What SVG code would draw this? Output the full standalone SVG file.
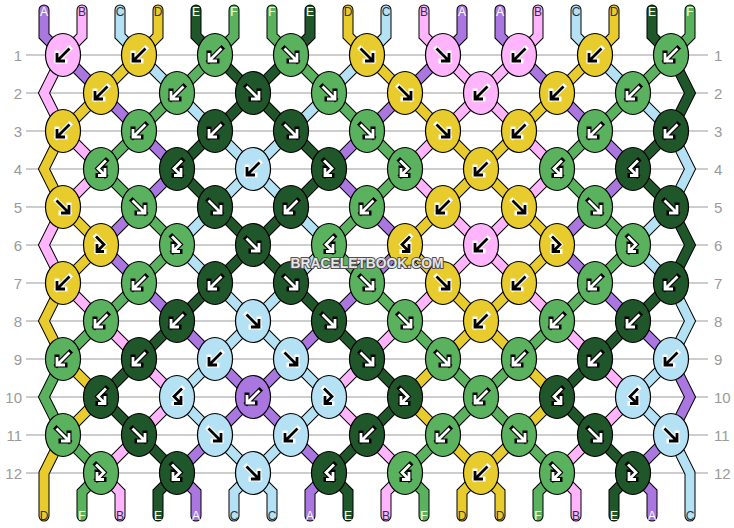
<svg xmlns="http://www.w3.org/2000/svg" width="734" height="528" viewBox="0 0 734 528">
<style>
.gl{stroke:#bdbdbd;stroke-width:1.5}
.rl{font-family:"Liberation Sans",Arial,sans-serif;font-size:15px;fill:#9a9a9a}
.le{text-anchor:end}
.st{fill:none;stroke-linejoin:miter;stroke-linecap:round}
.so{stroke:#000;stroke-width:11}
.sA{stroke:#aa77e0;stroke-width:9}
.sB{stroke:#ffb4fb;stroke-width:9}
.sC{stroke:#b4e1f3;stroke-width:9}
.sD{stroke:#e8cb2c;stroke-width:9}
.sE{stroke:#20572a;stroke-width:9}
.sF{stroke:#5ab25e;stroke-width:9}
.fA{fill:#aa77e0}.fB{fill:#ffb4fb}.fC{fill:#b4e1f3}.fD{fill:#e8cb2c}.fE{fill:#20572a}.fF{fill:#5ab25e}
.kn .fA,.kn .fB,.kn .fC,.kn .fD,.kn .fE,.kn .fF{stroke:#000;stroke-width:1.2}
.wo{fill:none;stroke:#fff;stroke-width:5;stroke-linecap:square;stroke-linejoin:miter}
.bo{fill:none;stroke:#000;stroke-width:5;stroke-linecap:square;stroke-linejoin:miter}
.bi{fill:none;stroke:#000;stroke-width:2.8;stroke-linecap:butt;stroke-linejoin:miter}
.wi{fill:none;stroke:#fff;stroke-width:2.8;stroke-linecap:butt;stroke-linejoin:miter}
.lb{font-family:"Liberation Sans",Arial,sans-serif;font-size:12px;text-anchor:middle}
.lw{fill:#fff}.lk{fill:#333}
.wm{font-family:"Liberation Sans",Arial,sans-serif;font-weight:bold;font-size:15px;text-anchor:middle;fill:#e6e6e6;stroke:#505050;stroke-width:2.2;paint-order:stroke;stroke-linejoin:round}
</style>
<defs>
<path id="pb" d="M6.5,-6.5L-6,6M-6,-2V6H2"/>
<path id="pf" d="M-6.5,-6.5L6,6M6,-2V6H-2"/>
<path id="pfb" d="M-5,-8.5L3,-0.5L-4,6.5M-4,-1V6.5H3"/>
<path id="pbf" d="M5,-8.5L-3,-0.5L4,6.5M4,-1V6.5H-3"/>
<g id="bl"><use href="#pb" class="wo"/><use href="#pb" class="bi"/></g>
<g id="bd"><use href="#pb" class="bo"/><use href="#pb" class="wi"/></g>
<g id="fl"><use href="#pf" class="wo"/><use href="#pf" class="bi"/></g>
<g id="fd"><use href="#pf" class="bo"/><use href="#pf" class="wi"/></g>
<g id="fbl"><use href="#pfb" class="wo"/><use href="#pfb" class="bi"/></g>
<g id="fbd"><use href="#pfb" class="bo"/><use href="#pfb" class="wi"/></g>
<g id="bfl"><use href="#pbf" class="wo"/><use href="#pbf" class="bi"/></g>
<g id="bfd"><use href="#pbf" class="bo"/><use href="#pbf" class="wi"/></g>
<polyline id="s0" points="44,10 44,36 63,55 101,93 139,131 177,169 139,207 101,245 139,283 177,321 215,359 253,397 291,435 329,473 310,492 310,516"/>
<polyline id="s1" points="82,10 82,36 63,55 44,93 63,131 101,169 63,207 44,245 63,283 101,321 139,359 177,397 139,435 101,473 120,492 120,516"/>
<polyline id="s2" points="120,10 120,36 139,55 177,93 215,131 253,169 291,207 329,245 291,283 253,321 215,359 177,397 215,435 253,473 272,492 272,516"/>
<polyline id="s3" points="158,10 158,36 139,55 101,93 63,131 44,169 63,207 101,245 63,283 44,321 63,359 101,397 63,435 44,473 44,516"/>
<polyline id="s4" points="196,10 196,36 215,55 253,93 291,131 329,169 291,207 253,245 215,283 177,321 139,359 101,397 139,435 177,473 158,492 158,516"/>
<polyline id="s5" points="234,10 234,36 215,55 177,93 139,131 101,169 139,207 177,245 139,283 101,321 63,359 44,397 63,435 101,473 82,492 82,516"/>
<polyline id="s6" points="272,10 272,36 291,55 329,93 367,131 405,169 367,207 329,245 367,283 405,321 443,359 481,397 519,435 557,473 538,492 538,516"/>
<polyline id="s7" points="310,10 310,36 291,55 253,93 215,131 177,169 215,207 253,245 291,283 329,321 367,359 405,397 367,435 329,473 348,492 348,516"/>
<polyline id="s8" points="348,10 348,36 367,55 405,93 443,131 481,169 519,207 557,245 519,283 481,321 443,359 405,397 443,435 481,473 500,492 500,516"/>
<polyline id="s9" points="386,10 386,36 367,55 329,93 291,131 253,169 215,207 177,245 215,283 253,321 291,359 329,397 291,435 253,473 234,492 234,516"/>
<polyline id="s10" points="424,10 424,36 443,55 481,93 519,131 557,169 519,207 481,245 443,283 405,321 367,359 329,397 367,435 405,473 386,492 386,516"/>
<polyline id="s11" points="462,10 462,36 443,55 405,93 367,131 329,169 367,207 405,245 367,283 329,321 291,359 253,397 215,435 177,473 196,492 196,516"/>
<polyline id="s12" points="500,10 500,36 519,55 557,93 595,131 633,169 595,207 557,245 595,283 633,321 671,359 690,397 671,435 633,473 652,492 652,516"/>
<polyline id="s13" points="538,10 538,36 519,55 481,93 443,131 405,169 443,207 481,245 519,283 557,321 595,359 633,397 595,435 557,473 576,492 576,516"/>
<polyline id="s14" points="576,10 576,36 595,55 633,93 671,131 690,169 671,207 633,245 671,283 690,321 671,359 633,397 671,435 690,473 690,516"/>
<polyline id="s15" points="614,10 614,36 595,55 557,93 519,131 481,169 443,207 405,245 443,283 481,321 519,359 557,397 519,435 481,473 462,492 462,516"/>
<polyline id="s16" points="652,10 652,36 671,55 690,93 671,131 633,169 671,207 690,245 671,283 633,321 595,359 557,397 595,435 633,473 614,492 614,516"/>
<polyline id="s17" points="690,10 690,36 671,55 633,93 595,131 557,169 595,207 633,245 595,283 557,321 519,359 481,397 443,435 405,473 424,492 424,516"/>
<ellipse id="ko" rx="17.5" ry="21.5" stroke="#000" stroke-width="1.2"/>
</defs>
<rect width="734" height="528" fill="#fff"/>
<g id="grid">
<line class="gl" x1="26" y1="55" x2="708" y2="55"/><line class="gl" x1="26" y1="93" x2="708" y2="93"/>
<line class="gl" x1="26" y1="131" x2="708" y2="131"/><line class="gl" x1="26" y1="169" x2="708" y2="169"/>
<line class="gl" x1="26" y1="207" x2="708" y2="207"/><line class="gl" x1="26" y1="245" x2="708" y2="245"/>
<line class="gl" x1="26" y1="283" x2="708" y2="283"/><line class="gl" x1="26" y1="321" x2="708" y2="321"/>
<line class="gl" x1="26" y1="359" x2="708" y2="359"/><line class="gl" x1="26" y1="397" x2="708" y2="397"/>
<line class="gl" x1="26" y1="435" x2="708" y2="435"/><line class="gl" x1="26" y1="473" x2="708" y2="473"/>
</g>
<g id="rowlabels">
<text class="rl le" x="22" y="60.5">1</text><text class="rl" x="714" y="60.5">1</text>
<text class="rl le" x="22" y="98.5">2</text><text class="rl" x="714" y="98.5">2</text>
<text class="rl le" x="22" y="136.5">3</text><text class="rl" x="714" y="136.5">3</text>
<text class="rl le" x="22" y="174.5">4</text><text class="rl" x="714" y="174.5">4</text>
<text class="rl le" x="22" y="212.5">5</text><text class="rl" x="714" y="212.5">5</text>
<text class="rl le" x="22" y="250.5">6</text><text class="rl" x="714" y="250.5">6</text>
<text class="rl le" x="22" y="288.5">7</text><text class="rl" x="714" y="288.5">7</text>
<text class="rl le" x="22" y="326.5">8</text><text class="rl" x="714" y="326.5">8</text>
<text class="rl le" x="22" y="364.5">9</text><text class="rl" x="714" y="364.5">9</text>
<text class="rl le" x="22" y="402.5">10</text><text class="rl" x="714" y="402.5">10</text>
<text class="rl le" x="22" y="440.5">11</text><text class="rl" x="714" y="440.5">11</text>
<text class="rl le" x="22" y="478.5">12</text><text class="rl" x="714" y="478.5">12</text>
</g>
<g id="connectors">
<g class="st so">
<use href="#s0"/><use href="#s1"/><use href="#s2"/><use href="#s3"/><use href="#s4"/><use href="#s5"/><use href="#s6"/><use href="#s7"/><use href="#s8"/><use href="#s9"/><use href="#s10"/><use href="#s11"/><use href="#s12"/><use href="#s13"/><use href="#s14"/><use href="#s15"/><use href="#s16"/><use href="#s17"/>
</g>
<g class="st">
<use href="#s0" class="sA"/><use href="#s1" class="sB"/><use href="#s2" class="sC"/><use href="#s3" class="sD"/><use href="#s4" class="sE"/><use href="#s5" class="sF"/><use href="#s6" class="sF"/><use href="#s7" class="sE"/><use href="#s8" class="sD"/><use href="#s9" class="sC"/><use href="#s10" class="sB"/><use href="#s11" class="sA"/><use href="#s12" class="sA"/><use href="#s13" class="sB"/><use href="#s14" class="sC"/><use href="#s15" class="sD"/><use href="#s16" class="sE"/><use href="#s17" class="sF"/>
</g>
</g>
<g id="toplabels" class="lb">
<text class="lw" x="44" y="16">A</text><text class="lk" x="82" y="16">B</text><text class="lk" x="120" y="16">C</text><text class="lk" x="158" y="16">D</text><text class="lw" x="196" y="16">E</text><text class="lw" x="234" y="16">F</text>
<text class="lw" x="272" y="16">F</text><text class="lw" x="310" y="16">E</text><text class="lk" x="348" y="16">D</text><text class="lk" x="386" y="16">C</text><text class="lk" x="424" y="16">B</text><text class="lw" x="462" y="16">A</text>
<text class="lw" x="500" y="16">A</text><text class="lk" x="538" y="16">B</text><text class="lk" x="576" y="16">C</text><text class="lk" x="614" y="16">D</text><text class="lw" x="652" y="16">E</text><text class="lw" x="690" y="16">F</text>
</g>
<g id="bottomlabels" class="lb">
<text class="lk" x="44" y="520">D</text><text class="lw" x="82" y="520">F</text><text class="lk" x="120" y="520">B</text><text class="lw" x="158" y="520">E</text><text class="lw" x="196" y="520">A</text><text class="lk" x="234" y="520">C</text>
<text class="lk" x="272" y="520">C</text><text class="lw" x="310" y="520">A</text><text class="lw" x="348" y="520">E</text><text class="lk" x="386" y="520">B</text><text class="lw" x="424" y="520">F</text><text class="lk" x="462" y="520">D</text>
<text class="lk" x="500" y="520">D</text><text class="lw" x="538" y="520">F</text><text class="lk" x="576" y="520">B</text><text class="lw" x="614" y="520">E</text><text class="lw" x="652" y="520">A</text><text class="lk" x="690" y="520">C</text>
</g>
<g id="knots" class="kn">
<g id="k1-1" transform="translate(63,55)"><use href="#ko" class="fB"/><use href="#bl"/></g>
<g id="k1-2" transform="translate(139,55)"><use href="#ko" class="fD"/><use href="#bl"/></g>
<g id="k1-3" transform="translate(215,55)"><use href="#ko" class="fF"/><use href="#bd"/></g>
<g id="k1-4" transform="translate(291,55)"><use href="#ko" class="fF"/><use href="#fd"/></g>
<g id="k1-5" transform="translate(367,55)"><use href="#ko" class="fD"/><use href="#fl"/></g>
<g id="k1-6" transform="translate(443,55)"><use href="#ko" class="fB"/><use href="#fl"/></g>
<g id="k1-7" transform="translate(519,55)"><use href="#ko" class="fB"/><use href="#bl"/></g>
<g id="k1-8" transform="translate(595,55)"><use href="#ko" class="fD"/><use href="#bl"/></g>
<g id="k1-9" transform="translate(671,55)"><use href="#ko" class="fF"/><use href="#bd"/></g>

<g id="k2-1" transform="translate(101,93)"><use href="#ko" class="fD"/><use href="#bl"/></g>
<g id="k2-2" transform="translate(177,93)"><use href="#ko" class="fF"/><use href="#bd"/></g>
<g id="k2-3" transform="translate(253,93)"><use href="#ko" class="fE"/><use href="#fd"/></g>
<g id="k2-4" transform="translate(329,93)"><use href="#ko" class="fF"/><use href="#fd"/></g>
<g id="k2-5" transform="translate(405,93)"><use href="#ko" class="fD"/><use href="#fl"/></g>
<g id="k2-6" transform="translate(481,93)"><use href="#ko" class="fB"/><use href="#bl"/></g>
<g id="k2-7" transform="translate(557,93)"><use href="#ko" class="fD"/><use href="#bl"/></g>
<g id="k2-8" transform="translate(633,93)"><use href="#ko" class="fF"/><use href="#bd"/></g>

<g id="k3-1" transform="translate(63,131)"><use href="#ko" class="fD"/><use href="#bl"/></g>
<g id="k3-2" transform="translate(139,131)"><use href="#ko" class="fF"/><use href="#bd"/></g>
<g id="k3-3" transform="translate(215,131)"><use href="#ko" class="fE"/><use href="#bd"/></g>
<g id="k3-4" transform="translate(291,131)"><use href="#ko" class="fE"/><use href="#fd"/></g>
<g id="k3-5" transform="translate(367,131)"><use href="#ko" class="fF"/><use href="#fd"/></g>
<g id="k3-6" transform="translate(443,131)"><use href="#ko" class="fD"/><use href="#fl"/></g>
<g id="k3-7" transform="translate(519,131)"><use href="#ko" class="fD"/><use href="#bl"/></g>
<g id="k3-8" transform="translate(595,131)"><use href="#ko" class="fF"/><use href="#bd"/></g>
<g id="k3-9" transform="translate(671,131)"><use href="#ko" class="fE"/><use href="#bd"/></g>

<g id="k4-1" transform="translate(101,169)"><use href="#ko" class="fF"/><use href="#bfd"/></g>
<g id="k4-2" transform="translate(177,169)"><use href="#ko" class="fE"/><use href="#bfd"/></g>
<g id="k4-3" transform="translate(253,169)"><use href="#ko" class="fC"/><use href="#bl"/></g>
<g id="k4-4" transform="translate(329,169)"><use href="#ko" class="fE"/><use href="#fbd"/></g>
<g id="k4-5" transform="translate(405,169)"><use href="#ko" class="fF"/><use href="#fbd"/></g>
<g id="k4-6" transform="translate(481,169)"><use href="#ko" class="fD"/><use href="#bl"/></g>
<g id="k4-7" transform="translate(557,169)"><use href="#ko" class="fF"/><use href="#bfd"/></g>
<g id="k4-8" transform="translate(633,169)"><use href="#ko" class="fE"/><use href="#bfd"/></g>

<g id="k5-1" transform="translate(63,207)"><use href="#ko" class="fD"/><use href="#fl"/></g>
<g id="k5-2" transform="translate(139,207)"><use href="#ko" class="fF"/><use href="#fd"/></g>
<g id="k5-3" transform="translate(215,207)"><use href="#ko" class="fE"/><use href="#fd"/></g>
<g id="k5-4" transform="translate(291,207)"><use href="#ko" class="fE"/><use href="#bd"/></g>
<g id="k5-5" transform="translate(367,207)"><use href="#ko" class="fF"/><use href="#bd"/></g>
<g id="k5-6" transform="translate(443,207)"><use href="#ko" class="fD"/><use href="#bl"/></g>
<g id="k5-7" transform="translate(519,207)"><use href="#ko" class="fD"/><use href="#fl"/></g>
<g id="k5-8" transform="translate(595,207)"><use href="#ko" class="fF"/><use href="#fd"/></g>
<g id="k5-9" transform="translate(671,207)"><use href="#ko" class="fE"/><use href="#fd"/></g>

<g id="k6-1" transform="translate(101,245)"><use href="#ko" class="fD"/><use href="#fbl"/></g>
<g id="k6-2" transform="translate(177,245)"><use href="#ko" class="fF"/><use href="#fbd"/></g>
<g id="k6-3" transform="translate(253,245)"><use href="#ko" class="fE"/><use href="#fd"/></g>
<g id="k6-4" transform="translate(329,245)"><use href="#ko" class="fF"/><use href="#bfd"/></g>
<g id="k6-5" transform="translate(405,245)"><use href="#ko" class="fD"/><use href="#bfl"/></g>
<g id="k6-6" transform="translate(481,245)"><use href="#ko" class="fB"/><use href="#bl"/></g>
<g id="k6-7" transform="translate(557,245)"><use href="#ko" class="fD"/><use href="#fbl"/></g>
<g id="k6-8" transform="translate(633,245)"><use href="#ko" class="fF"/><use href="#fbd"/></g>

<g id="k7-1" transform="translate(63,283)"><use href="#ko" class="fD"/><use href="#bl"/></g>
<g id="k7-2" transform="translate(139,283)"><use href="#ko" class="fF"/><use href="#bd"/></g>
<g id="k7-3" transform="translate(215,283)"><use href="#ko" class="fE"/><use href="#bd"/></g>
<g id="k7-4" transform="translate(291,283)"><use href="#ko" class="fE"/><use href="#fd"/></g>
<g id="k7-5" transform="translate(367,283)"><use href="#ko" class="fF"/><use href="#fd"/></g>
<g id="k7-6" transform="translate(443,283)"><use href="#ko" class="fD"/><use href="#fl"/></g>
<g id="k7-7" transform="translate(519,283)"><use href="#ko" class="fD"/><use href="#bl"/></g>
<g id="k7-8" transform="translate(595,283)"><use href="#ko" class="fF"/><use href="#bd"/></g>
<g id="k7-9" transform="translate(671,283)"><use href="#ko" class="fE"/><use href="#bd"/></g>

<g id="k8-1" transform="translate(101,321)"><use href="#ko" class="fF"/><use href="#bd"/></g>
<g id="k8-2" transform="translate(177,321)"><use href="#ko" class="fE"/><use href="#bd"/></g>
<g id="k8-3" transform="translate(253,321)"><use href="#ko" class="fC"/><use href="#fl"/></g>
<g id="k8-4" transform="translate(329,321)"><use href="#ko" class="fE"/><use href="#fd"/></g>
<g id="k8-5" transform="translate(405,321)"><use href="#ko" class="fF"/><use href="#fd"/></g>
<g id="k8-6" transform="translate(481,321)"><use href="#ko" class="fD"/><use href="#bl"/></g>
<g id="k8-7" transform="translate(557,321)"><use href="#ko" class="fF"/><use href="#bd"/></g>
<g id="k8-8" transform="translate(633,321)"><use href="#ko" class="fE"/><use href="#bd"/></g>

<g id="k9-1" transform="translate(63,359)"><use href="#ko" class="fF"/><use href="#bd"/></g>
<g id="k9-2" transform="translate(139,359)"><use href="#ko" class="fE"/><use href="#bd"/></g>
<g id="k9-3" transform="translate(215,359)"><use href="#ko" class="fC"/><use href="#bl"/></g>
<g id="k9-4" transform="translate(291,359)"><use href="#ko" class="fC"/><use href="#fl"/></g>
<g id="k9-5" transform="translate(367,359)"><use href="#ko" class="fE"/><use href="#fd"/></g>
<g id="k9-6" transform="translate(443,359)"><use href="#ko" class="fF"/><use href="#fd"/></g>
<g id="k9-7" transform="translate(519,359)"><use href="#ko" class="fF"/><use href="#bd"/></g>
<g id="k9-8" transform="translate(595,359)"><use href="#ko" class="fE"/><use href="#bd"/></g>
<g id="k9-9" transform="translate(671,359)"><use href="#ko" class="fC"/><use href="#bl"/></g>

<g id="k10-1" transform="translate(101,397)"><use href="#ko" class="fE"/><use href="#bfd"/></g>
<g id="k10-2" transform="translate(177,397)"><use href="#ko" class="fC"/><use href="#bfl"/></g>
<g id="k10-3" transform="translate(253,397)"><use href="#ko" class="fA"/><use href="#bd"/></g>
<g id="k10-4" transform="translate(329,397)"><use href="#ko" class="fC"/><use href="#fbl"/></g>
<g id="k10-5" transform="translate(405,397)"><use href="#ko" class="fE"/><use href="#fbd"/></g>
<g id="k10-6" transform="translate(481,397)"><use href="#ko" class="fF"/><use href="#bd"/></g>
<g id="k10-7" transform="translate(557,397)"><use href="#ko" class="fE"/><use href="#bfd"/></g>
<g id="k10-8" transform="translate(633,397)"><use href="#ko" class="fC"/><use href="#bfl"/></g>

<g id="k11-1" transform="translate(63,435)"><use href="#ko" class="fF"/><use href="#fd"/></g>
<g id="k11-2" transform="translate(139,435)"><use href="#ko" class="fE"/><use href="#fd"/></g>
<g id="k11-3" transform="translate(215,435)"><use href="#ko" class="fC"/><use href="#fl"/></g>
<g id="k11-4" transform="translate(291,435)"><use href="#ko" class="fC"/><use href="#bl"/></g>
<g id="k11-5" transform="translate(367,435)"><use href="#ko" class="fE"/><use href="#bd"/></g>
<g id="k11-6" transform="translate(443,435)"><use href="#ko" class="fF"/><use href="#bd"/></g>
<g id="k11-7" transform="translate(519,435)"><use href="#ko" class="fF"/><use href="#fd"/></g>
<g id="k11-8" transform="translate(595,435)"><use href="#ko" class="fE"/><use href="#fd"/></g>
<g id="k11-9" transform="translate(671,435)"><use href="#ko" class="fC"/><use href="#fl"/></g>

<g id="k12-1" transform="translate(101,473)"><use href="#ko" class="fF"/><use href="#fbd"/></g>
<g id="k12-2" transform="translate(177,473)"><use href="#ko" class="fE"/><use href="#fbd"/></g>
<g id="k12-3" transform="translate(253,473)"><use href="#ko" class="fC"/><use href="#fl"/></g>
<g id="k12-4" transform="translate(329,473)"><use href="#ko" class="fE"/><use href="#bfd"/></g>
<g id="k12-5" transform="translate(405,473)"><use href="#ko" class="fF"/><use href="#bfd"/></g>
<g id="k12-6" transform="translate(481,473)"><use href="#ko" class="fD"/><use href="#bl"/></g>
<g id="k12-7" transform="translate(557,473)"><use href="#ko" class="fF"/><use href="#fbd"/></g>
<g id="k12-8" transform="translate(633,473)"><use href="#ko" class="fE"/><use href="#fbd"/></g>
</g>
<text id="watermark" class="wm" x="367" y="268" textLength="153" lengthAdjust="spacingAndGlyphs">BRACELETBOOK.COM</text>
</svg>
